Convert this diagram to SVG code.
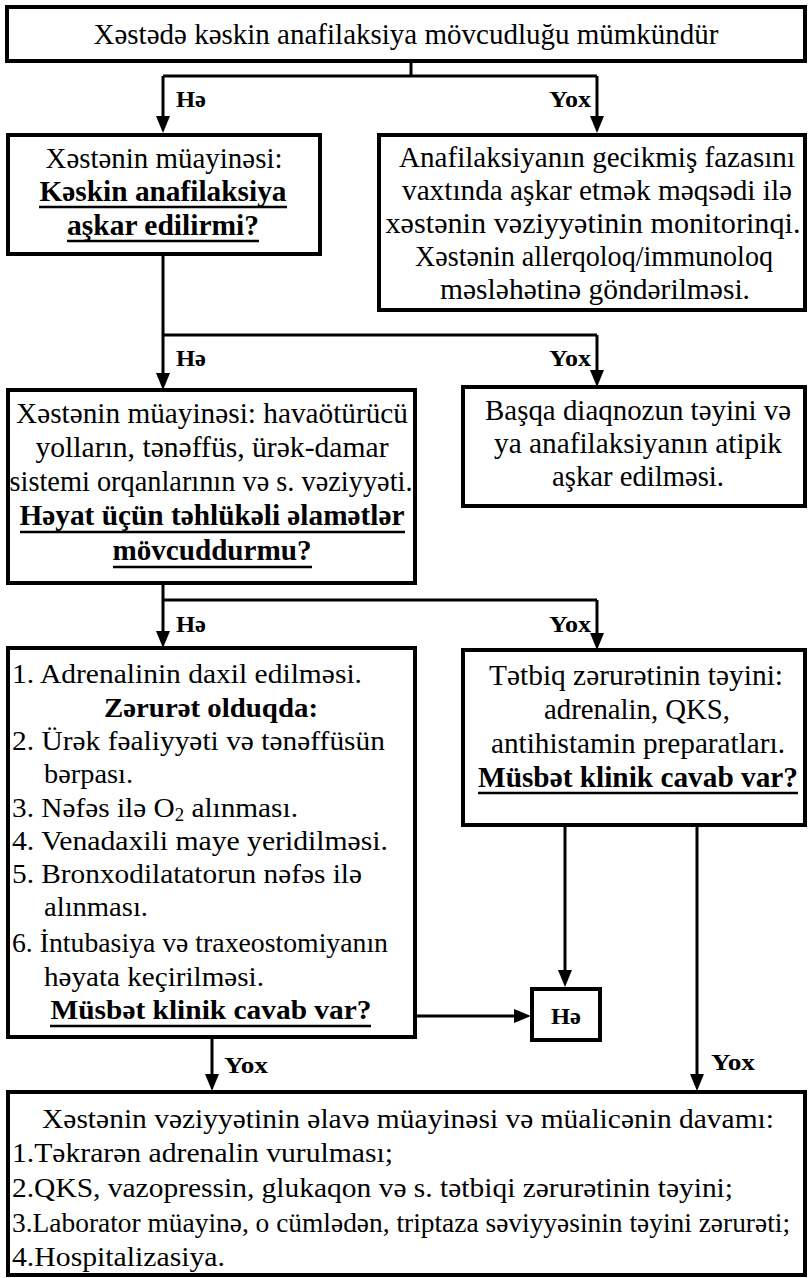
<svg xmlns="http://www.w3.org/2000/svg" width="808" height="1278" viewBox="0 0 808 1278">
<style>
.box{fill:#fff;stroke:#000;stroke-width:4}
.c{fill:none;stroke:#000;stroke-width:3}
.ah{fill:#000}
text{font-size:30px;fill:#000;font-family:"Liberation Serif","Times New Roman",serif}
.s text{font-size:28px}
.b{font-weight:bold}
.m{text-anchor:middle}
.l{font-size:24px;font-weight:bold}
.ul{stroke:#000;stroke-width:2.5}
</style>
<rect width="808" height="1278" fill="#fff"/>
<g id="connectors">
<path class="c" d="M411 62V76M163 76H597M163 76V118M597 76V118"/>
<polygon class="ah" points="156,116 170,116 163,133"/>
<polygon class="ah" points="590,116 604,116 597,133"/>
<text class="l" x="176" y="107" textLength="30" lengthAdjust="spacingAndGlyphs">Hə</text>
<text class="l" x="591" y="107" text-anchor="end" textLength="42" lengthAdjust="spacingAndGlyphs">Yox</text>
<path class="c" d="M163 255V335H597M163 335V375M597 335V372"/>
<polygon class="ah" points="156,373 170,373 163,390"/>
<polygon class="ah" points="590,370 604,370 597,387"/>
<text class="l" x="176" y="366" textLength="30" lengthAdjust="spacingAndGlyphs">Hə</text>
<text class="l" x="591" y="366" text-anchor="end" textLength="42" lengthAdjust="spacingAndGlyphs">Yox</text>
<path class="c" d="M163 583V600H597M163 600V633M597 600V635"/>
<polygon class="ah" points="156,631 170,631 163,648"/>
<polygon class="ah" points="590,633 604,633 597,650"/>
<text class="l" x="176" y="632" textLength="30" lengthAdjust="spacingAndGlyphs">Hə</text>
<text class="l" x="591" y="632" text-anchor="end" textLength="42" lengthAdjust="spacingAndGlyphs">Yox</text>
<path class="c" d="M565 825V972M697 825V1076M415 1016H516M212 1037V1076"/>
<polygon class="ah" points="558,970 572,970 565,987"/>
<polygon class="ah" points="514,1009 514,1023 531,1016"/>
<polygon class="ah" points="205,1074 219,1074 212,1091"/>
<polygon class="ah" points="690,1074 704,1074 697,1091"/>
<text class="l" x="224" y="1073" textLength="44" lengthAdjust="spacingAndGlyphs">Yox</text>
<text class="l" x="711" y="1070" textLength="44" lengthAdjust="spacingAndGlyphs">Yox</text>
</g>
<g id="n1">
<rect class="box" x="7" y="7" width="798" height="54"/>
<text class="m" x="406" y="44" textLength="625" lengthAdjust="spacingAndGlyphs">Xəstədə kəskin anafilaksiya mövcudluğu mümkündür</text>
</g>
<g id="n2">
<rect class="box" x="8" y="135" width="312" height="119"/>
<text class="m" x="164" y="168" textLength="237" lengthAdjust="spacingAndGlyphs">Xəstənin müayinəsi:</text>
<text class="m b" x="163" y="201" textLength="247" lengthAdjust="spacingAndGlyphs">Kəskin anafilaksiya</text>
<line class="ul" x1="39" y1="207" x2="287" y2="207"/>
<text class="m b" x="163" y="235" textLength="192" lengthAdjust="spacingAndGlyphs">aşkar edilirmi?</text>
<line class="ul" x1="67" y1="241" x2="259" y2="241"/>
</g>
<g id="n3">
<rect class="box" x="379" y="135" width="426" height="175"/>
<text class="m" x="597" y="167" textLength="396" lengthAdjust="spacingAndGlyphs">Anafilaksiyanın gecikmiş fazasını</text>
<text class="m" x="597" y="200" textLength="390" lengthAdjust="spacingAndGlyphs">vaxtında aşkar etmək məqsədi ilə</text>
<text class="m" x="593" y="233" textLength="415" lengthAdjust="spacingAndGlyphs">xəstənin vəziyyətinin monitorinqi.</text>
<text class="m" x="594" y="266" textLength="358" lengthAdjust="spacingAndGlyphs">Xəstənin allerqoloq/immunoloq</text>
<text class="m" x="595" y="299" textLength="310" lengthAdjust="spacingAndGlyphs">məsləhətinə göndərilməsi.</text>
</g>
<g id="n4">
<rect class="box" x="8" y="390" width="407" height="193"/>
<text class="m" x="212" y="423" textLength="392" lengthAdjust="spacingAndGlyphs">Xəstənin müayinəsi: havaötürücü</text>
<text class="m" x="212" y="457" textLength="353" lengthAdjust="spacingAndGlyphs">yolların, tənəffüs, ürək-damar</text>
<text class="m" x="211" y="491" textLength="403" lengthAdjust="spacingAndGlyphs">sistemi orqanlarının və s. vəziyyəti.</text>
<text class="m b" x="212" y="525" textLength="385" lengthAdjust="spacingAndGlyphs">Həyat üçün təhlükəli əlamətlər</text>
<line class="ul" x1="20" y1="532" x2="405" y2="532"/>
<text class="m b" x="212" y="560" textLength="199" lengthAdjust="spacingAndGlyphs">mövcuddurmu?</text>
<line class="ul" x1="113" y1="567" x2="312" y2="567"/>
</g>
<g id="n5">
<rect class="box" x="463" y="387" width="342" height="119"/>
<text class="m" x="638" y="420" textLength="306" lengthAdjust="spacingAndGlyphs">Başqa diaqnozun təyini və</text>
<text class="m" x="638" y="453" textLength="288" lengthAdjust="spacingAndGlyphs">ya anafilaksiyanın atipik</text>
<text class="m" x="638" y="486" textLength="172" lengthAdjust="spacingAndGlyphs">aşkar edilməsi.</text>
</g>
<g id="n6" class="s">
<rect class="box" x="8" y="648" width="407" height="389"/>
<text x="12" y="683" textLength="350" lengthAdjust="spacingAndGlyphs">1. Adrenalinin daxil edilməsi.</text>
<text class="m b" x="211" y="717" textLength="214" lengthAdjust="spacingAndGlyphs">Zərurət olduqda:</text>
<text x="12" y="750" textLength="373" lengthAdjust="spacingAndGlyphs">2. Ürək fəaliyyəti və tənəffüsün</text>
<text x="44" y="783" textLength="89" lengthAdjust="spacingAndGlyphs">bərpası.</text>
<text x="12" y="817" textLength="286" lengthAdjust="spacingAndGlyphs">3. Nəfəs ilə O<tspan font-size="18" baseline-shift="-4">2</tspan> alınması.</text>
<text x="12" y="850" textLength="376" lengthAdjust="spacingAndGlyphs">4. Venadaxili maye yeridilməsi.</text>
<text x="12" y="883" textLength="350" lengthAdjust="spacingAndGlyphs">5. Bronxodilatatorun nəfəs ilə</text>
<text x="44" y="916" textLength="104" lengthAdjust="spacingAndGlyphs">alınması.</text>
<text x="12" y="952" textLength="376" lengthAdjust="spacingAndGlyphs">6. İntubasiya və traxeostomiyanın</text>
<text x="44" y="986" textLength="220" lengthAdjust="spacingAndGlyphs">həyata keçirilməsi.</text>
<text class="m b" x="211" y="1019" textLength="321" lengthAdjust="spacingAndGlyphs">Müsbət klinik cavab var?</text>
<line class="ul" x1="50" y1="1026" x2="371" y2="1026"/>
</g>
<g id="n7">
<rect class="box" x="463" y="650" width="342" height="175"/>
<text class="m" x="636" y="685" textLength="294" lengthAdjust="spacingAndGlyphs">Tətbiq zərurətinin təyini:</text>
<text class="m" x="637" y="719" textLength="186" lengthAdjust="spacingAndGlyphs">adrenalin, QKS,</text>
<text class="m" x="638" y="753" textLength="294" lengthAdjust="spacingAndGlyphs">antihistamin preparatları.</text>
<text class="m b" x="638" y="787" textLength="320" lengthAdjust="spacingAndGlyphs">Müsbət klinik cavab var?</text>
<line class="ul" x1="478" y1="793" x2="798" y2="793"/>
</g>
<g id="n8">
<rect class="box" x="532" y="989" width="68" height="51"/>
<text class="l m" x="566" y="1024" textLength="30" lengthAdjust="spacingAndGlyphs">Hə</text>
</g>
<g id="n9" class="s">
<rect class="box" x="8" y="1092" width="797" height="183"/>
<text class="m" x="408" y="1128" textLength="732" lengthAdjust="spacingAndGlyphs">Xəstənin vəziyyətinin əlavə müayinəsi və müalicənin davamı:</text>
<text x="12" y="1162" textLength="381" lengthAdjust="spacingAndGlyphs">1.Təkrarən adrenalin vurulması;</text>
<text x="12" y="1197" textLength="721" lengthAdjust="spacingAndGlyphs">2.QKS, vazopressin, glukaqon və s. tətbiqi zərurətinin təyini;</text>
<text x="12" y="1232" textLength="778" lengthAdjust="spacingAndGlyphs">3.Laborator müayinə, o cümlədən, triptaza səviyyəsinin təyini zərurəti;</text>
<text x="12" y="1266" textLength="213" lengthAdjust="spacingAndGlyphs">4.Hospitalizasiya.</text>
</g>
</svg>
